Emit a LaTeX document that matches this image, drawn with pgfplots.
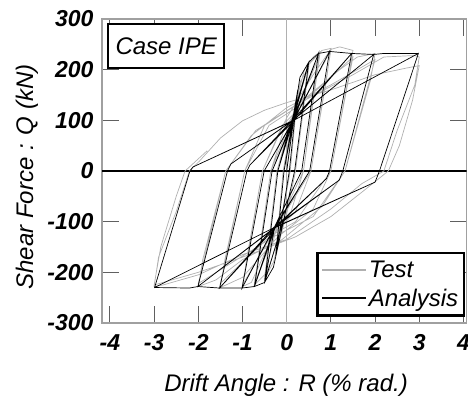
\documentclass[border=0pt]{standalone}
\usepackage{fontspec}
\setmainfont{Liberation Sans}
\usepackage{pgfplots}
\pgfplotsset{compat=1.18}
\definecolor{testgray}{HTML}{B0B0B0}
\definecolor{framegray}{HTML}{A0A0A0}
\definecolor{tickgray}{HTML}{606060}
\begin{document}
\begin{tikzpicture}
\begin{axis}[name=ax, scale only axis, width=364.5pt, height=304pt,
 xmin=-4.18, xmax=4.07, ymin=-300, ymax=300,
 xtick={-4,-3,-2,-1,0,1,2,3,4}, ytick={-300,-200,-100,0,100,200,300},
 tick align=inside, major tick length=17pt,
 axis line style={framegray, line width=1.2pt},
 tick style={tickgray, line width=1pt},
 /pgf/number format/assume math mode=true,
 ticklabel style={font=\fontsize{23}{25}\selectfont\bfseries\itshape},
 xticklabel style={yshift=-8pt},
 yticklabel style={xshift=-5pt},
 xlabel={Drift Angle : R (\% rad.)}, ylabel={Shear Force : Q (kN)},
 label style={font=\fontsize{24}{26}\selectfont\itshape},
 xlabel style={at={(axis description cs:0.505,0)}, anchor=base, yshift=-69pt},
 ylabel style={at={(axis description cs:-0.189,0.48)}, anchor=base},
 legend style={at={(0.997,0.02)}, anchor=south east, draw=black, line width=2.5pt,
   font=\fontsize{24}{26}\selectfont\itshape, inner xsep=4pt, inner ysep=6pt,
   row sep=6pt, cells={anchor=west}},
 legend image code/.code={\draw[#1, line width=1.5pt] (0pt,0pt) -- (44pt,0pt);},
 clip=true]
\addplot[testgray, forget plot, line width=0.8pt] coordinates {(0,-300) (0,300)};
\addplot[black, forget plot, line width=1.1pt] coordinates {(-4.18,0) (4.07,0)};
% test
\addplot[testgray, line width=0.7pt] coordinates {
(0,0) (0.1,70) (0.25,150) (0.2,110) (0.08,0) (-0.1,-80) (-0.25,-160) (-0.2,-120) (-0.08,0)
(0.1,75) (0.25,155) (0.08,0) (-0.25,-165) (-0.08,0)
(0.1,90) (0.3,175) (0.5,205) (0.42,150) (0.2,0) (0,-85) (-0.3,-180) (-0.5,-212) (-0.42,-150) (-0.22,0)
(0.05,85) (0.5,208) (0.2,0) (-0.02,-90) (-0.5,-215) (-0.22,0)
(0.1,95) (0.4,200) (0.6,225) (0.75,235) (0.65,180) (0.38,0) (0.1,-80) (-0.25,-120) (-0.5,-205) (-0.73,-225) (-0.63,-170) (-0.36,0)
(-0.05,85) (0.2,115) (0.75,230) (0.38,0) (-0.25,-118) (-0.73,-222) (-0.36,0)
(0.1,100) (0.5,210) (0.8,238) (1.0,242) (0.9,180) (0.55,0) (0.2,-80) (-0.3,-125) (-0.8,-220) (-1.0,-228) (-0.9,-170) (-0.55,0)
(-0.1,90) (0.3,125) (1.0,238) (0.55,0) (-0.3,-120) (-1.0,-225) (-0.55,0)
(0,105) (0.6,190) (1.0,240) (1.2,245) (1.5,238) (1.4,185) (1.0,0) (0.6,-75) (-0.2,-130) (-1.0,-210) (-1.5,-230) (-1.4,-175) (-0.95,0)
(-0.4,90) (0.3,130) (1.5,225) (1.0,0) (0.2,-100) (-0.4,-130) (-1.5,-222) (-0.95,0)
(-0.5,90) (0.3,135) (1.2,200) (1.6,225) (2.0,232) (1.9,180) (1.32,0) (0.8,-70) (-0.1,-135) (-1.0,-175) (-1.6,-215) (-2.0,-228) (-1.9,-175) (-1.38,0)
(-0.8,70) (0.0,125) (1.0,170) (2.0,220) (1.32,0) (0.6,-90) (-0.3,-130) (-2.0,-222) (-1.38,0)
(-0.7,80) (0.2,130) (1.5,190) (2.2,225) (2.9,228) (3.0,225) (2.9,170) (2.5,80) (2.2,0) (1.7,-25) (1.0,-75) (0,-135) (-1.0,-165) (-2.0,-205) (-2.8,-225) (-3.0,-228) (-2.9,-170) (-2.5,-80) (-2.2,0)
(-1.97,20) (-1.5,65) (-1.0,99) (-0.5,120) (0,135) (1.0,160) (2.0,190) (2.7,203) (3.0,208) (2.85,140) (2.55,50) (2.3,0) (1.8,-35) (1.0,-90) (0.2,-130) (-1.0,-170) (-2.0,-200) (-3.0,-225) (-2.85,-150) (-2.5,-50) (-2.3,0) (-1.8,40)
};
\addlegendentry{Test}
% analysis
\addplot[black, line width=0.7pt] coordinates {
(0,0) (0.25,160) (0.06,0) (-0.25,-170) (-0.06,0) (0.25,160) (0.06,0) (-0.25,-170) (-0.06,0)
(0.15,100) (0.3,185) (0.5,215) (0.18,0) (-0.05,-90) (-0.3,-190) (-0.5,-220) (-0.2,0)
(0.05,80) (0.5,215) (0.18,0) (-0.05,-90) (-0.5,-220) (-0.2,0)
(0.14,98) (0.5,215) (0.72,232) (0.34,0) (-0.27,-110) (-0.5,-220) (-0.73,-228) (-0.33,0)
(0.16,101) (0.72,232) (0.34,0) (-0.29,-113) (-0.73,-228) (-0.33,0)
(0.13,99) (0.72,232) (0.97,236) (0.52,0) (-0.26,-111) (-0.73,-228) (-1.01,-231) (-0.51,0)
(0.17,102) (0.97,236) (0.52,0) (-0.3,-114) (-1.01,-231) (-0.51,0)
(0.15,100) (0.97,236) (1.47,232) (0.97,0) (0.9,-15) (-0.28,-112) (-1.01,-231) (-1.52,-231) (-0.9,0) (-0.83,12)
(0.14,101) (1.47,232) (0.97,0) (0.9,-15) (-0.27,-113) (-1.52,-231) (-0.9,0) (-0.83,12)
(0.16,99) (1.47,232) (1.97,230) (1.27,0) (1.19,-18) (-0.29,-111) (-1.52,-231) (-2.01,-228) (-1.34,0) (-1.26,14)
(0.15,101) (1.97,230) (1.27,0) (1.19,-18) (-0.28,-112) (-2.01,-228) (-1.34,0) (-1.26,14)
(0.14,100) (1.97,230) (2.2,232) (2.98,232) (2.1,0) (2.0,-22) (-0.27,-112) (-2.01,-228) (-2.2,-231) (-2.99,-230) (-2.19,0) (-2.12,8)
(0.16,100) (2.98,232) (2.1,0) (2.0,-22) (-0.29,-112) (-2.99,-230) (-2.19,0) (-2.12,8) (0.15,100)
};
\addlegendentry{Analysis}
\node[draw=black, line width=2.5pt, anchor=north west, minimum width=116pt, minimum height=44pt,
  inner sep=0pt, fill=white, font=\fontsize{24}{26}\selectfont\itshape]
  at (rel axis cs:0.0137,0.987) {Case IPE};
\end{axis}
\pgfresetboundingbox
\path ([xshift=-102pt,yshift=-77pt]ax.south west) rectangle ([xshift=1.5pt,yshift=19pt]ax.north east);
\end{tikzpicture}
\end{document}
